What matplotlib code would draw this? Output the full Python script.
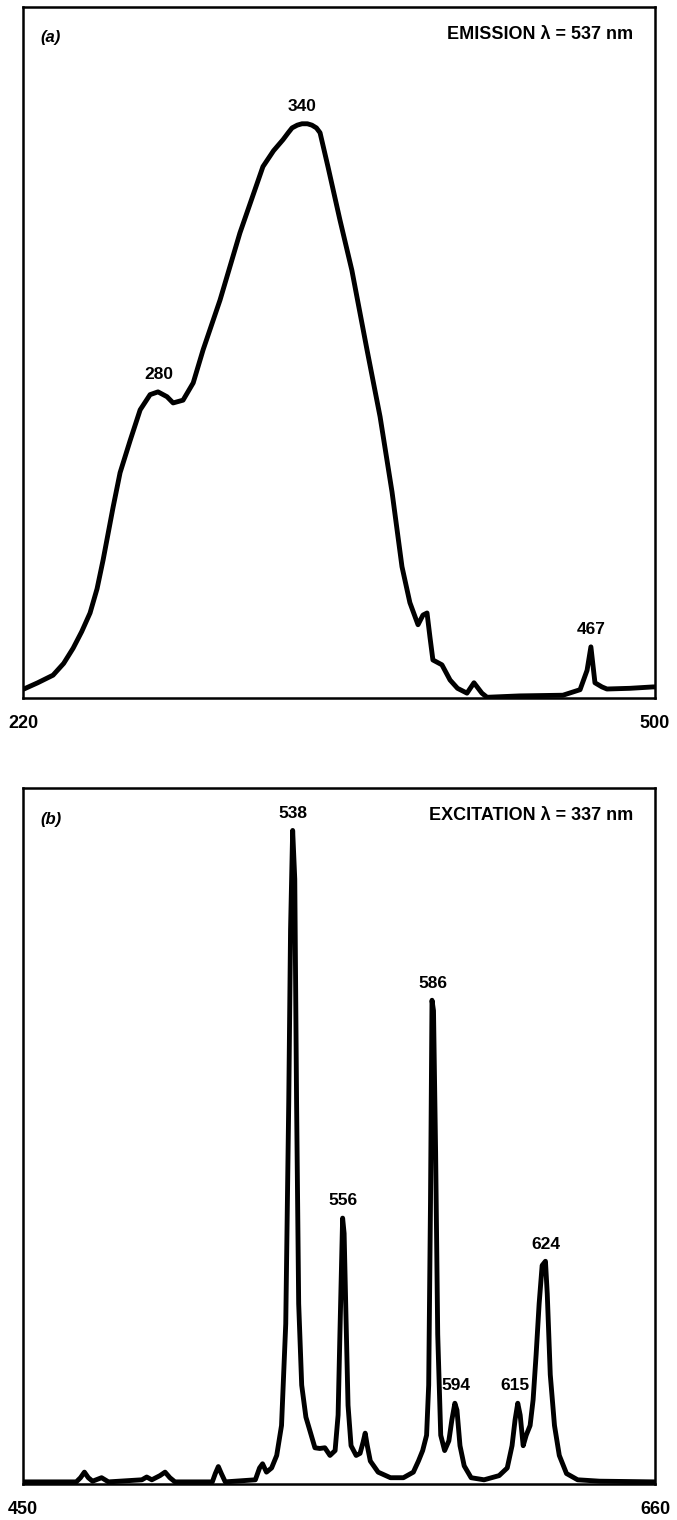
import matplotlib.pyplot as plt

# Panel (a): emission spectrum, wavelength (nm) vs relative intensity (0-100)
em_wl = [220.4, 226.5, 233.3, 238.0, 242.2, 246.0, 249.7, 252.8, 255.5, 259.9,
         263.0, 267.5, 271.9, 276.3, 279.8, 283.8, 286.5, 290.9, 295.4, 299.8,
         307.3, 316.1, 326.3, 331.0, 335.2, 337.5, 339.2, 341.5, 343.6, 346.0,
         348.0, 350.0, 351.6, 355.1, 360.4, 365.7, 372.4, 378.2, 383.5, 387.9,
         391.4, 395.0, 397.2, 399.0, 400.3, 401.6, 405.6, 409.2, 412.5, 416.7,
         419.8, 423.3, 425.6, 440.0, 459.2, 466.8, 469.9, 471.6, 473.4, 476.5,
         478.7, 488.9, 499.1, 500.0]
em_int = [1.3, 2.2, 3.3, 5.0, 7.2, 9.6, 12.3, 15.8, 20.0, 27.6,
          32.6, 37.3, 41.7, 43.9, 44.3, 43.6, 42.7, 43.1, 45.6, 50.4,
          57.6, 67.3, 76.9, 79.2, 80.8, 81.8, 82.5, 82.9, 83.1, 83.1,
          82.9, 82.5, 81.8, 76.9, 69.2, 61.9, 50.4, 40.7, 29.8, 19.0,
          13.8, 10.6, 12.0, 12.3, 8.8, 5.5, 4.8, 2.6, 1.4, 0.7,
          2.2, 0.7, 0.1, 0.3, 0.4, 1.2, 4.0, 7.4, 2.2, 1.6,
          1.3, 1.4, 1.6, 1.6]
em_peaks = [280.0, 343.8, 471.6]
em_peak_int = [44.3, 83.1, 7.4]
em_peak_labels = ["280", "340", "467"]

# Panel (b): excitation spectrum
ex_wl = [450.0, 467.7, 469.1, 470.4, 471.7, 473.1, 476.1, 478.4, 489.5, 491.1,
         492.8, 495.5, 497.2, 498.8, 500.5, 512.9, 513.9, 514.9, 515.9, 517.2,
         527.2, 528.6, 529.6, 530.9, 532.6, 534.3, 535.9, 537.3, 538.3, 538.9,
         539.6, 540.3, 540.9, 541.6, 542.6, 544.0, 545.3, 547.0, 548.6, 550.3,
         552.0, 553.7, 554.7, 555.3, 556.2, 556.7, 557.3, 558.0, 559.0, 560.7,
         562.0, 563.0, 563.7, 564.4, 565.4, 568.0, 572.1, 576.4, 579.7, 581.4,
         582.8, 584.1, 584.8, 585.4, 585.9, 586.4, 587.1, 587.8, 588.8, 590.1,
         591.5, 592.5, 593.5, 594.2, 595.2, 596.6, 598.9, 603.2, 608.2, 610.9,
         612.5, 613.5, 614.4, 615.2, 616.2, 617.2, 618.5, 619.5, 620.5, 621.5,
         622.5, 623.6, 624.2, 625.2, 626.6, 628.2, 630.6, 634.3, 641.6, 660.0]
ex_int = [0.3, 0.3, 0.9, 1.7, 0.9, 0.4, 0.9, 0.3, 0.6, 1.0,
          0.6, 1.2, 1.7, 0.9, 0.3, 0.3, 1.5, 2.5, 1.5, 0.3,
          0.6, 2.3, 2.9, 1.7, 2.3, 4.1, 8.4, 23.0, 54.9, 79.7,
          93.9, 86.9, 54.9, 25.9, 14.2, 9.6, 7.7, 5.2, 5.1, 5.2,
          4.1, 4.8, 9.9, 21.5, 38.2, 36.0, 24.4, 11.3, 5.5, 4.1,
          4.4, 6.0, 7.3, 5.5, 3.3, 1.7, 0.9, 0.9, 1.7, 3.3,
          4.8, 7.0, 14.2, 40.4, 69.5, 68.0, 47.7, 21.5, 7.0, 4.8,
          6.2, 9.2, 11.6, 10.6, 5.5, 2.6, 0.9, 0.6, 1.2, 2.3,
          5.5, 9.2, 11.6, 9.9, 5.5, 7.0, 8.4, 12.1, 18.6, 25.9,
          31.4, 32.0, 27.3, 15.7, 8.4, 4.1, 1.5, 0.6, 0.4, 0.3]
ex_peaks = [539.6, 556.2, 586.1, 594.0, 613.5, 623.8]
ex_peak_int = [93.9, 38.2, 69.5, 11.6, 11.6, 32.0]
ex_peak_labels = ["538", "556", "586", "594", "615", "624"]

plt.rcParams['font.family'] = ['Liberation Sans', 'DejaVu Sans']

fig = plt.figure(figsize=(6.77, 15.2), dpi=100)
ax_a = fig.add_axes([0.034, 0.5408, 0.9335, 0.4546])
ax_b = fig.add_axes([0.034, 0.0237, 0.9335, 0.4579])

panels = [
    (ax_a, em_wl, em_int, em_peaks, em_peak_int, em_peak_labels,
     (220, 500), "(a)", "EMISSION λ = 537 nm"),
    (ax_b, ex_wl, ex_int, ex_peaks, ex_peak_int, ex_peak_labels,
     (450, 660), "(b)", "EXCITATION λ = 337 nm"),
]

for ax, wl, inten, pk, pk_int, pk_lab, xlim, tag, title in panels:
    ax.plot(wl, inten, color="black", lw=3.5, solid_joinstyle="round",
            solid_capstyle="round")
    ax.set_xlim(*xlim)
    ax.set_ylim(0, 100)
    for x, y, s in zip(pk, pk_int, pk_lab):
        ax.text(x, y + 1.4, s, ha="center", va="bottom", fontsize=12.5,
                fontweight="bold")
    ax.text(0.027, 0.966, tag, transform=ax.transAxes, ha="left", va="top",
            fontsize=12, fontweight="bold", style="italic")
    ax.text(0.965, 0.972, title, transform=ax.transAxes, ha="right", va="top",
            fontsize=13, fontweight="bold")
    ax.set_yticks([])
    ax.set_xticks(list(xlim))
    ax.set_xticklabels([str(v) for v in xlim], fontsize=13, fontweight="bold")
    ax.tick_params(axis="x", length=0, pad=12)
    for spine in ax.spines.values():
        spine.set_linewidth(1.8)
        spine.set_edgecolor("black")

fig.savefig("out.png", dpi=100, facecolor="white")
